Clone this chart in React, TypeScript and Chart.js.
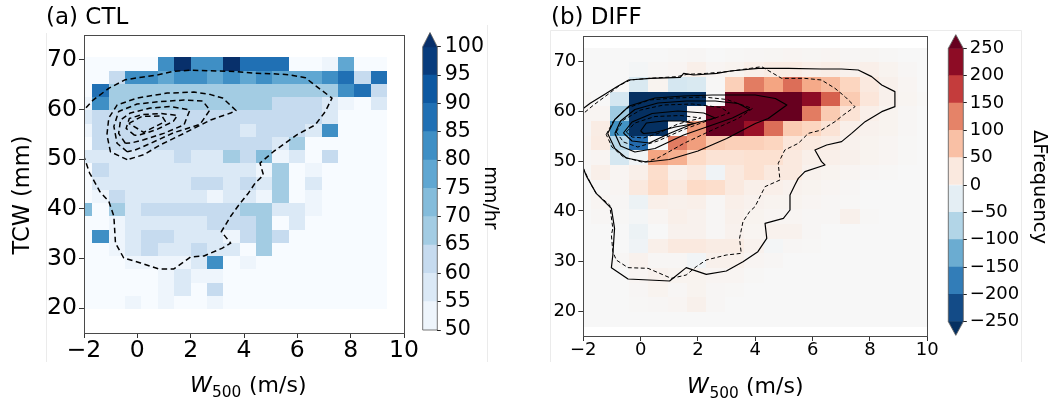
import React, { useEffect, useRef } from 'react';
import { Chart, registerables } from 'chart.js';

Chart.register(...registerables);

const W = 1051;
const H = 403;
const FONT = '"DejaVu Sans", "Liberation Sans", sans-serif';

// ---------------- shared axes ----------------
const xTicks = [-2, 0, 2, 4, 6, 8, 10];
const yTicks = [20, 30, 40, 50, 60, 70];
const ctlLevels = [50, 55, 60, 65, 70, 75, 80, 85, 90, 95, 100];
const diffLevels = [-250, -200, -150, -100, -50, 0, 50, 100, 150, 200, 250];

// ---------------- panel (a) CTL : mean rain rate (mm/hr) ----------------
const ctlXEdges = [-2.31, -1.69, -1.08, -0.46, 0.15, 0.77, 1.38, 2.0, 2.61, 3.22, 3.84, 4.45, 5.06, 5.68, 6.29, 6.91, 7.52, 8.13, 8.75, 9.36];
const ctlYEdges = [19.8, 22.47, 25.13, 27.8, 30.47, 33.13, 35.8, 38.47, 41.13, 43.8, 46.47, 49.13, 51.8, 54.47, 57.13, 59.8, 62.47, 65.13, 67.8, 70.47];
// rows listed from top (TCW ~69) to bottom (TCW ~21)
const ctlRate = [
  [45, 45, 45, 45, 45, 82, 105, 82, 82, 105, 87, 87, 88, 45, 45, 52, 77, 45, 45],
  [45, 45, 62, 82, 82, 77, 82, 82, 77, 82, 77, 82, 77, 77, 76, 82, 87, 62, 87],
  [45, 87, 67, 67, 67, 67, 67, 67, 67, 67, 67, 68, 67, 67, 67, 67, 82, 88, 62],
  [52, 82, 67, 67, 67, 67, 67, 67, 67, 67, 67, 67, 62, 62, 62, 57, 52, 45, 57],
  [57, 62, 62, 62, 62, 62, 62, 62, 62, 62, 62, 62, 62, 62, 62, 57, 45, 45, 45],
  [52, 62, 62, 62, 62, 62, 62, 62, 62, 62, 57, 62, 62, 62, 57, 82, 45, 45, 45],
  [45, 62, 62, 62, 62, 62, 62, 62, 62, 62, 62, 62, 57, 67, 45, 45, 45, 45, 45],
  [57, 57, 57, 57, 57, 57, 62, 57, 57, 67, 62, 72, 52, 57, 45, 62, 45, 45, 45],
  [45, 62, 57, 57, 57, 57, 57, 57, 57, 57, 57, 52, 67, 45, 52, 45, 45, 45, 45],
  [45, 57, 57, 57, 57, 57, 57, 62, 62, 57, 62, 57, 67, 45, 57, 45, 45, 45, 45],
  [45, 52, 62, 57, 57, 57, 57, 57, 52, 57, 57, 52, 67, 45, 52, 45, 45, 45, 45],
  [72, 45, 67, 57, 62, 62, 62, 62, 62, 62, 67, 67, 57, 57, 52, 45, 45, 45, 45],
  [45, 45, 52, 57, 57, 57, 57, 57, 62, 62, 62, 67, 45, 57, 45, 45, 45, 45, 45],
  [45, 82, 52, 57, 62, 62, 57, 57, 57, 52, 62, 67, 62, 45, 45, 45, 45, 45, 45],
  [45, 45, 52, 57, 62, 57, 57, 62, 57, 57, 45, 67, 45, 45, 45, 45, 45, 45, 45],
  [45, 45, 45, 52, 52, 52, 52, 57, 82, 45, 52, 45, 45, 45, 45, 45, 45, 45, 45],
  [45, 45, 45, 45, 45, 52, 57, 52, 52, 45, 45, 45, 45, 45, 45, 45, 45, 45, 45],
  [45, 45, 45, 45, 45, 52, 57, 45, 62, 45, 45, 45, 45, 45, 45, 45, 45, 45, 45],
  [45, 45, 45, 52, 45, 52, 45, 45, 52, 45, 45, 45, 45, 45, 45, 45, 45, 45, 45],
];

// CTL frequency contours (dashed)
const ctlOuter = [[-2.15, 59.0], [-2.0, 59.9], [-1.66, 61.9], [-1.06, 64.3], [-0.45, 66.0], [0.16, 66.5], [0.78, 67.0], [1.37, 67.7], [2.0, 67.9], [2.62, 67.8], [3.66, 67.65], [4.42, 67.3], [5.08, 67.2], [5.67, 67.0], [6.3, 66.4], [6.73, 64.6], [7.3, 62.3], [7.05, 59.6], [6.67, 56.9], [5.98, 54.9], [5.54, 53.2], [5.1, 51.5], [4.6, 49.2], [4.73, 46.8], [4.42, 45.2], [4.17, 43.2], [3.81, 40.8], [3.5, 38.5], [3.15, 35.4], [3.5, 33.1], [3.19, 32.1], [2.5, 30.5], [2.0, 30.3], [1.37, 27.9], [0.81, 27.9], [0.12, 29.1], [-0.51, 30.1], [-0.82, 33.1], [-0.88, 38.5], [-1.07, 41.5], [-1.41, 43.5], [-1.64, 45.8], [-1.79, 47.2], [-2.0, 50.5], [-2.1, 52.0]];
const ctlC2 = [[-0.38, 49.9], [-1.01, 51.5], [-1.14, 54.9], [-1.07, 58.3], [-0.76, 60.9], [-0.01, 62.3], [1.12, 63.3], [2.12, 63.5], [2.75, 63.0], [3.2, 62.3], [3.7, 59.8], [3.5, 59.3], [2.75, 57.9], [1.75, 55.2], [0.87, 52.9], [0.24, 50.9]];
const ctlC3 = [[-0.38, 51.5], [-0.76, 53.2], [-0.88, 56.6], [-0.7, 59.6], [-0.01, 61.1], [0.87, 61.6], [1.75, 61.9], [2.45, 61.7], [2.72, 59.9], [2.35, 57.0], [1.35, 55.3], [0.5, 53.2], [-0.1, 51.8]];
const ctlC4 = [[-0.45, 53.2], [-0.7, 55.2], [-0.63, 57.9], [-0.26, 59.3], [0.49, 60.3], [1.25, 60.6], [1.97, 59.9], [1.75, 56.9], [0.99, 55.2], [0.24, 53.9], [-0.2, 53.3]];
const ctlC5 = [[-0.1, 54.8], [-0.42, 56.2], [-0.3, 58.2], [0.2, 59.0], [0.9, 59.2], [1.5, 58.8], [1.35, 57.6], [0.7, 55.9], [0.1, 54.9]];
const ctlC6 = [[-0.32, 57.2], [0.17, 58.6], [0.92, 58.7], [1.05, 57.6], [0.24, 55.4]];

// ---------------- panel (b) DIFF : frequency difference ----------------
const diffXEdges = [-2.41, -1.74, -1.07, -0.4, 0.27, 0.94, 1.61, 2.28, 2.95, 3.62, 4.29, 4.96, 5.63, 6.3, 6.97, 7.64, 8.31, 8.98, 9.65, 10.32];
const diffYEdges = [16.87, 19.81, 22.74, 25.68, 28.62, 31.55, 34.49, 37.43, 40.37, 43.3, 46.24, 49.18, 52.11, 55.05, 57.99, 60.92, 63.86, 66.8, 69.73, 72.67];
// rows listed from top (TCW ~71) to bottom (TCW ~18)
const diffFreq = [
  [0, 0, 0, 0, 0, 2, 3, 0, 2, 3, 4, 5, 4, 5, 3, 4, 2, 0, 0],
  [0, 0, 0, -5, 3, 5, 15, 5, 8, 15, 20, 20, 15, 18, 10, 15, 8, 3, 0],
  [0, 0, 0, -40, 8, -45, -40, 2, 60, 130, 100, 140, 95, 80, 55, 25, 12, 5, 0],
  [3, 0, -45, -300, -300, -300, -280, 0, 300, 300, 300, 270, 225, 150, 65, 30, 12, 6, 2],
  [5, 5, -90, -300, -300, -300, 5, 300, 300, 300, 300, 290, 130, 65, 35, 15, 8, 3, 0],
  [3, 20, -150, -300, -300, 0, 110, 300, 300, 215, 140, 65, 55, 35, 15, 10, 8, 3, 0],
  [5, 22, -70, -195, 0, 130, 105, 65, 60, 60, 55, 30, 25, 20, 10, 8, 5, 2, 0],
  [3, 5, -45, -8, 100, 90, 50, 35, 35, 40, 40, 25, 15, 15, 12, 8, 5, 2, 0],
  [2, 15, 5, 15, 45, 15, 25, -10, 25, 40, 25, 25, 10, 8, 5, 3, 2, 0, 0],
  [0, 3, 5, 25, 50, 25, 50, 45, 25, 15, 15, 10, 8, 5, 3, 0, 0, 0, 0],
  [0, 5, 3, -15, 15, 12, 15, 3, 15, 10, 8, 8, 5, 3, 2, 0, 0, 0, 0],
  [0, 3, 2, -5, 5, 15, 10, 3, 12, 8, 5, 5, 3, 3, 12, 2, 0, 0, 0],
  [0, 0, 0, -15, 0, 10, 10, 3, 10, 6, 10, 10, 3, 0, 0, 0, 0, 0, 0],
  [0, 0, 0, -10, 15, 25, 25, 20, 20, 10, -5, 3, 2, 0, 0, 0, 0, 0, 0],
  [0, 0, 3, 10, 3, 3, -8, 12, 12, 5, 3, 0, 0, 0, 0, 0, 0, 0, 0],
  [0, 0, 0, 5, 10, 8, 8, 5, 5, 2, 0, 0, 0, 0, 0, 0, 0, 0, 0],
  [0, 0, 0, 3, 8, 3, 8, 3, 2, 0, 0, 0, 0, 0, 0, 0, 0, 0, 0],
  [0, 0, 0, 2, 3, 5, 12, 3, 0, 0, 0, 0, 0, 0, 0, 0, 0, 0, 0],
  [0, 0, 0, 0, 0, 0, 0, 0, 0, 0, 0, 0, 0, 0, 0, 0, 0, 0, 0],
];

// contours: solid = experiment, dashed = control
const diffSolidOuter = [[-2.1, 59.8], [-1.99, 60.53], [-1.76, 61.53], [-1.29, 63.2], [-0.83, 64.87], [-0.42, 66.2], [0.34, 66.53], [1.38, 66.73], [1.5, 67.53], [1.85, 67.2], [2.66, 67.53], [3.13, 68.0], [4.1, 68.53], [5.15, 68.53], [6.31, 68.4], [7.01, 68.4], [7.59, 68.2], [8.06, 66.87], [8.41, 65.2], [8.87, 63.87], [8.87, 60.87], [8.41, 59.87], [7.83, 57.87], [7.36, 55.53], [7.01, 53.87], [6.49, 53.2], [6.08, 52.2], [6.31, 49.87], [6.43, 49.2], [5.73, 47.87], [5.5, 46.53], [5.38, 45.2], [5.21, 43.2], [5.21, 40.2], [4.98, 38.53], [4.34, 37.53], [4.4, 34.53], [4.09, 31.87], [3.57, 29.87], [2.99, 28.0], [2.29, 27.33], [1.59, 28.67], [1.01, 26.0], [-0.44, 26.4], [-1.02, 28.67], [-0.97, 31.2], [-0.91, 36.53], [-1.02, 40.53], [-1.55, 43.53], [-1.88, 46.87], [-2.0, 48.53], [-2.12, 49.5]];
const diffDashOuter = [[-2.1, 58.8], [-1.99, 59.53], [-1.64, 61.2], [-1.17, 63.2], [-0.71, 65.2], [-0.36, 66.2], [0.28, 66.53], [1.27, 66.87], [1.62, 67.33], [2.31, 67.53], [3.01, 67.87], [3.83, 68.53], [4.22, 68.87], [4.92, 66.53], [5.73, 66.53], [6.31, 66.2], [6.78, 64.53], [7.13, 62.87], [7.48, 60.87], [7.07, 59.2], [6.78, 57.87], [6.31, 56.2], [5.85, 55.53], [5.5, 53.53], [5.03, 52.2], [4.8, 49.53], [4.86, 46.2], [4.34, 44.87], [3.99, 40.87], [3.8, 39.87], [3.57, 37.87], [3.45, 34.53], [3.51, 31.53], [2.99, 31.2], [2.29, 30.2], [1.94, 28.87], [1.59, 27.2], [1.07, 26.53], [0.26, 28.53], [-0.44, 28.67], [-0.85, 30.2], [-0.97, 31.87], [-1.02, 35.2], [-0.97, 36.53], [-1.08, 41.2], [-1.55, 43.53], [-1.72, 45.2], [-2.0, 48.53], [-2.12, 49.5]];
const diffSolid2 = [[-1.15, 55.5], [-0.9, 58.3], [-0.4, 61.0], [0.5, 62.6], [1.5, 63.0], [2.5, 63.2], [3.5, 63.2], [4.0, 63.2], [4.7, 62.5], [5.1, 61.2], [4.45, 58.5], [4.0, 57.5], [3.0, 54.5], [2.0, 52.0], [1.0, 50.3], [0.2, 49.8], [-0.5, 50.6], [-0.9, 52.5]];
const diffDash2 = [[-1.2, 55.3], [-0.95, 58.0], [-0.5, 60.5], [0.3, 62.2], [1.2, 62.6], [2.2, 62.8], [3.0, 62.3], [3.9, 60.5], [3.4, 58.5], [2.5, 56.2], [1.5, 53.5], [0.6, 50.6], [0.1, 49.7], [-0.6, 50.8], [-1.0, 52.8]];
const diffSolid3 = [[-0.9, 55.5], [-0.7, 58.0], [-0.2, 60.3], [0.6, 61.6], [1.6, 62.0], [2.6, 62.0], [3.4, 61.5], [3.8, 60.3], [3.2, 58.6], [2.4, 57.0], [1.5, 55.2], [0.5, 52.5], [-0.2, 51.8], [-0.7, 53.0]];
const diffDash3 = [[-0.85, 55.8], [-0.6, 58.2], [0.0, 60.2], [0.8, 61.2], [1.8, 61.4], [2.8, 60.7], [3.1, 59.6], [2.4, 58.2], [1.5, 56.3], [0.6, 54.0], [-0.1, 52.8], [-0.6, 53.8]];
const diffSolid4 = [[-0.6, 55.6], [-0.3, 57.8], [0.4, 59.5], [1.3, 60.0], [2.2, 59.6], [2.6, 58.6], [1.8, 57.4], [1.0, 55.5], [0.3, 53.6], [-0.3, 54.0]];
const diffDash4 = [[-0.5, 55.8], [-0.2, 57.6], [0.5, 58.9], [1.4, 59.1], [2.1, 58.6], [1.3, 57.4], [0.6, 55.5], [0.1, 54.6], [-0.3, 54.8]];
const diffSolid5 = [[0.0, 56.0], [0.2, 57.6], [0.8, 58.0], [1.4, 58.0], [1.9, 57.5], [1.2, 56.8], [0.5, 55.7], [0.1, 55.5]];

// ---------------- colours ----------------
const ctlUnder = '#f7fbff';
const ctlColors = ['#eef5fc', '#dbe9f6', '#c6dbef', '#a3cce3', '#84bcdb', '#60a7d2', '#3f8fc5', '#2070b4', '#0d58a1', '#083c7d'];
const ctlOver = '#08306b';
const rdbuStops = ['#053061', '#2166ac', '#4393c3', '#92c5de', '#d1e5f0', '#f7f7f7', '#fddbc7', '#f4a582', '#d6604d', '#b2182b', '#67001f'];

function hexRgb(h: string) {
  return [parseInt(h.slice(1, 3), 16), parseInt(h.slice(3, 5), 16), parseInt(h.slice(5, 7), 16)];
}
function rdbuR(t: number) {
  const tt = Math.max(0, Math.min(1, t));
  const p = tt * 10;
  const i = Math.min(9, Math.floor(p));
  const f = p - i;
  const a = hexRgb(rdbuStops[i]);
  const b = hexRgb(rdbuStops[i + 1]);
  const c = a.map((v, k) => Math.round(v + (b[k] - v) * f));
  return `rgb(${c[0]},${c[1]},${c[2]})`;
}
function ctlColor(v: number) {
  if (v < ctlLevels[0]) return ctlUnder;
  for (let k = 0; k < ctlLevels.length - 1; k++) if (v < ctlLevels[k + 1]) return ctlColors[k];
  return ctlOver;
}
function diffColor(v: number) {
  return rdbuR((v - diffLevels[0]) / (diffLevels[diffLevels.length - 1] - diffLevels[0]));
}
const diffCbColors = diffLevels.slice(0, -1).map((_, k) => rdbuR((k + 0.5) / (diffLevels.length - 1)));

const fmtNum = (v: number) => (v < 0 ? '\u2212' + Math.abs(v) : String(v));

// ---------------- plugins ----------------
function heatPlugin(xEdges: number[], yEdges: number[], rows: number[][], color: (v: number) => string) {
  return {
    id: 'heatmap',
    beforeDatasetsDraw(chart: any) {
      const { ctx, chartArea: a, scales } = chart;
      const xs = scales.x;
      const ys = scales.y;
      ctx.save();
      ctx.beginPath();
      ctx.rect(a.left, a.top, a.right - a.left, a.bottom - a.top);
      ctx.clip();
      const n = rows.length;
      rows.forEach((row, ri) => {
        const j = n - 1 - ri;
        const yt = Math.round(ys.getPixelForValue(yEdges[j + 1]));
        const yb = Math.round(ys.getPixelForValue(yEdges[j]));
        row.forEach((v, i) => {
          const xl = Math.round(xs.getPixelForValue(xEdges[i]));
          const xr = Math.round(xs.getPixelForValue(xEdges[i + 1]));
          ctx.fillStyle = color(v);
          ctx.fillRect(xl, yt, xr - xl, yb - yt);
        });
      });
      ctx.restore();
    },
  };
}

const framePlugin = {
  id: 'frame',
  afterDatasetsDraw(chart: any) {
    const { ctx, chartArea: a } = chart;
    ctx.save();
    ctx.strokeStyle = '#4a4a4a';
    ctx.lineWidth = 1;
    const l = Math.floor(a.left) + 0.5;
    const t = Math.floor(a.top) + 0.5;
    const r = Math.floor(a.right) + 0.5;
    const b = Math.floor(a.bottom) + 0.5;
    ctx.strokeRect(l, t, r - l, b - t);
    ctx.restore();
  },
};

// faint panel outlines visible around each sub-figure
function panelEdgePlugin(segs: number[][]) {
  return {
    id: 'paneledge',
    beforeDraw(chart: any) {
      const ctx = chart.ctx;
      ctx.save();
      ctx.strokeStyle = '#ebebeb';
      ctx.lineWidth = 1;
      segs.forEach(([x1, y1, x2, y2]) => {
        ctx.beginPath();
        ctx.moveTo(x1, y1);
        ctx.lineTo(x2, y2);
        ctx.stroke();
      });
      ctx.restore();
    },
  };
}

function textPlugin(items: any[]) {
  return {
    id: 'figtext',
    afterDraw(chart: any) {
      const ctx = chart.ctx;
      items.forEach((t) => {
        ctx.save();
        ctx.font = t.font;
        ctx.fillStyle = '#000';
        ctx.textAlign = t.align || 'left';
        ctx.textBaseline = t.baseline || 'alphabetic';
        ctx.translate(t.x, t.y);
        if (t.rot) ctx.rotate(t.rot);
        ctx.fillText(t.text, 0, 0);
        ctx.restore();
      });
    },
  };
}

function cbExtPlugin(over: string | null, under: string | null) {
  return {
    id: 'cbext',
    afterDatasetsDraw(chart: any) {
      const { ctx, chartArea: a } = chart;
      const h = 0.05 * (a.bottom - a.top);
      const cx = (a.left + a.right) / 2;
      ctx.save();
      if (over) {
        ctx.fillStyle = over;
        ctx.beginPath();
        ctx.moveTo(a.left, a.top + 0.5);
        ctx.lineTo(cx, a.top - h);
        ctx.lineTo(a.right, a.top + 0.5);
        ctx.closePath();
        ctx.fill();
      }
      if (under) {
        ctx.fillStyle = under;
        ctx.beginPath();
        ctx.moveTo(a.left, a.bottom - 0.5);
        ctx.lineTo(cx, a.bottom + h);
        ctx.lineTo(a.right, a.bottom - 0.5);
        ctx.closePath();
        ctx.fill();
      }
      ctx.beginPath();
      ctx.moveTo(a.left, a.bottom);
      ctx.lineTo(a.left, a.top);
      if (over) ctx.lineTo(cx, a.top - h);
      ctx.lineTo(a.right, a.top);
      ctx.lineTo(a.right, a.bottom);
      if (under) ctx.lineTo(cx, a.bottom + h);
      ctx.closePath();
      ctx.strokeStyle = '#555';
      ctx.lineWidth = 0.8;
      ctx.stroke();
      ctx.restore();
    },
  };
}

// ---------------- config builders ----------------
function contour(pts: number[][], closed: boolean, dash: number[], width: number) {
  const p = closed ? pts.concat([pts[0]]) : pts;
  return {
    data: p.map(([x, y]) => ({ x, y })),
    showLine: true,
    pointRadius: 0,
    borderColor: '#000',
    borderWidth: width,
    borderDash: dash,
    borderJoinStyle: 'round',
    fill: false,
    tension: 0,
  };
}

function mainConfig(o: any) {
  const { area, padLeft, tickSize, yPad, xPad, datasets, plugins } = o;
  return {
    type: 'scatter',
    data: { datasets },
    options: {
      responsive: false,
      animation: false,
      events: [],
      layout: { padding: { left: padLeft, top: area.top, right: W - area.right, bottom: 0 } },
      plugins: { legend: { display: false }, tooltip: { enabled: false }, title: { display: false } },
      scales: {
        x: {
          type: 'linear',
          min: xTicks[0],
          max: xTicks[xTicks.length - 1],
          afterBuildTicks: (s: any) => { s.ticks = xTicks.map((v) => ({ value: v })); },
          afterFit: (s: any) => { s.height = H - area.bottom; },
          ticks: { font: { size: tickSize, lineHeight: 1 }, color: '#000', padding: xPad, autoSkip: false, maxRotation: 0, callback: (v: number) => fmtNum(v) },
          grid: { drawOnChartArea: false, drawTicks: true, tickLength: 5, color: '#333', lineWidth: 1 },
          border: { display: false },
        },
        y: {
          type: 'linear',
          min: 15,
          max: 75,
          afterBuildTicks: (s: any) => { s.ticks = yTicks.map((v) => ({ value: v })); },
          afterFit: (s: any) => { s.width = area.left - padLeft; },
          ticks: { font: { size: tickSize, lineHeight: 1 }, color: '#000', padding: yPad, autoSkip: false, callback: (v: number) => fmtNum(v) },
          grid: { drawOnChartArea: false, drawTicks: true, tickLength: 5, color: '#333', lineWidth: 1 },
          border: { display: false },
        },
      },
    },
    plugins,
  };
}

function colorbarConfig(o: any) {
  const { levels, colors, over, under, area, axisWidth, tickSize, tickPad, texts, edges } = o;
  const datasets = colors.map((c: string, k: number) => ({
    data: [[levels[k], levels[k + 1]]],
    backgroundColor: c,
    borderWidth: 0,
    barPercentage: 1,
    categoryPercentage: 1,
    grouped: false,
  }));
  return {
    type: 'bar',
    data: { labels: [''], datasets },
    options: {
      responsive: false,
      animation: false,
      events: [],
      layout: { padding: { left: area.left, top: area.top, right: W - area.right - axisWidth, bottom: H - area.bottom } },
      plugins: { legend: { display: false }, tooltip: { enabled: false }, title: { display: false } },
      scales: {
        x: { display: false },
        y: {
          position: 'right',
          min: levels[0],
          max: levels[levels.length - 1],
          afterBuildTicks: (s: any) => { s.ticks = levels.map((v: number) => ({ value: v })); },
          afterFit: (s: any) => { s.width = axisWidth; },
          ticks: { font: { size: tickSize, lineHeight: 1 }, color: '#000', padding: tickPad, autoSkip: false, callback: (v: number) => fmtNum(v) },
          grid: { drawOnChartArea: false, drawTicks: true, tickLength: 3.5, color: '#222', lineWidth: 1 },
          border: { display: false },
        },
      },
    },
    plugins: [panelEdgePlugin(edges), cbExtPlugin(over, under), textPlugin(texts)],
  };
}

export default function App() {
  const c1 = useRef<HTMLCanvasElement | null>(null);
  const c2 = useRef<HTMLCanvasElement | null>(null);
  const c3 = useRef<HTMLCanvasElement | null>(null);
  const c4 = useRef<HTMLCanvasElement | null>(null);

  useEffect(() => {
    Chart.defaults.font.family = FONT;
    const ctlDash = [5.5, 3.5];
    const dDash = [4, 2.5];

    const ctlMain = mainConfig({
      area: { left: 84, top: 35, right: 404, bottom: 333 },
      padLeft: 0,
      tickSize: 23.5,
      yPad: 2,
      xPad: 1,
      datasets: [
        contour(ctlOuter, false, ctlDash, 1.5),
        contour(ctlC2, true, ctlDash, 1.5),
        contour(ctlC3, true, ctlDash, 1.5),
        contour(ctlC4, true, ctlDash, 1.5),
        contour(ctlC5, true, ctlDash, 1.5),
        contour(ctlC6, true, ctlDash, 1.5),
      ],
      plugins: [
        heatPlugin(ctlXEdges, ctlYEdges, ctlRate, ctlColor),
        framePlugin,
        textPlugin([
          { text: '(a) CTL', x: 46, y: 24, font: `23px ${FONT}` },
          { text: 'TCW (mm)', x: 23, y: 195, font: `22.5px ${FONT}`, rot: -Math.PI / 2, align: 'center', baseline: 'middle' },
          { text: 'W', x: 190, y: 392, font: `italic 22px ${FONT}` },
          { text: '500', x: 212, y: 396.5, font: `15.4px ${FONT}` },
          { text: '(m/s)', x: 249, y: 392, font: `22px ${FONT}` },
        ]),
      ],
    });

    const ctlBar = colorbarConfig({
      levels: ctlLevels,
      colors: ctlColors,
      over: ctlOver,
      under: null,
      area: { left: 422.7, top: 46.7, right: 437.3, bottom: 330 },
      axisWidth: 60,
      tickSize: 20.5,
      tickPad: 4,
      edges: [[46.5, 33, 46.5, 362], [487.5, 25, 487.5, 362]],
      texts: [{ text: 'mm/hr', x: 490, y: 198, font: `19px ${FONT}`, rot: Math.PI / 2, align: 'center', baseline: 'middle' }],
    });

    const diffMain = mainConfig({
      area: { left: 583.3, top: 36, right: 927.3, bottom: 336 },
      padLeft: 520,
      tickSize: 18,
      yPad: 2,
      xPad: 0,
      datasets: [
        contour(diffSolidOuter, false, [], 1.2),
        contour(diffDashOuter, false, dDash, 1.0),
        contour(diffSolid2, true, [], 1.2),
        contour(diffDash2, true, dDash, 1.0),
        contour(diffSolid3, true, [], 1.2),
        contour(diffDash3, true, dDash, 1.0),
        contour(diffSolid4, true, [], 1.2),
        contour(diffDash4, true, dDash, 1.0),
        contour(diffSolid5, true, [], 1.2),
      ],
      plugins: [
        heatPlugin(diffXEdges, diffYEdges, diffFreq, diffColor),
        framePlugin,
        textPlugin([
          { text: '(b) DIFF', x: 551, y: 24, font: `23px ${FONT}` },
          { text: 'W', x: 687, y: 393, font: `italic 22px ${FONT}` },
          { text: '500', x: 709.5, y: 397.5, font: `15.4px ${FONT}` },
          { text: '(m/s)', x: 746, y: 393, font: `22px ${FONT}` },
        ]),
      ],
    });

    const diffBar = colorbarConfig({
      levels: diffLevels,
      colors: diffCbColors,
      over: rdbuR(1),
      under: rdbuR(0),
      area: { left: 948.3, top: 48.3, right: 963.3, bottom: 321.7 },
      axisWidth: 80,
      tickSize: 18,
      tickPad: 3,
      edges: [[550.5, 30.5, 550.5, 362], [550.5, 30.5, 1021.5, 30.5], [1021.5, 30.5, 1021.5, 362]],
      texts: [{ text: '\u0394Frequency', x: 1039, y: 187, font: `19.5px ${FONT}`, rot: Math.PI / 2, align: 'center', baseline: 'middle' }],
    });

    const charts = [
      new Chart(c1.current as any, ctlMain as any),
      new Chart(c2.current as any, ctlBar as any),
      new Chart(c3.current as any, diffMain as any),
      new Chart(c4.current as any, diffBar as any),
    ];
    return () => charts.forEach((c) => c.destroy());
  }, []);

  const cs: any = { position: 'absolute', left: 0, top: 0, width: W, height: H };
  return (
    <div style={{ position: 'absolute', left: 0, top: 0, width: W, height: H, background: '#fff', overflow: 'hidden' }}>
      <canvas ref={c1} width={W} height={H} style={cs} />
      <canvas ref={c2} width={W} height={H} style={cs} />
      <canvas ref={c3} width={W} height={H} style={cs} />
      <canvas ref={c4} width={W} height={H} style={cs} />
    </div>
  );
}
